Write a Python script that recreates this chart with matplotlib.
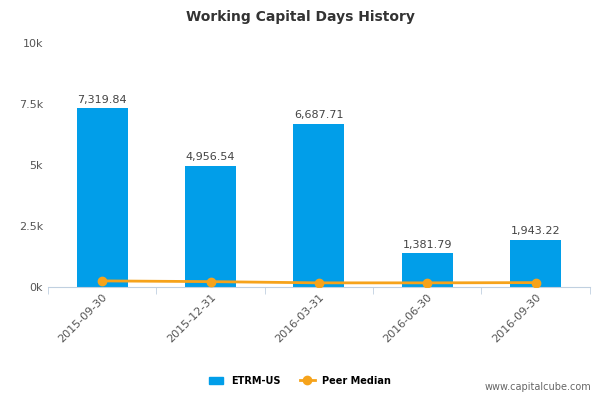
import matplotlib
matplotlib.use("Agg")
import matplotlib.pyplot as plt
import numpy as np

categories = ["2015-09-30", "2015-12-31", "2016-03-31", "2016-06-30", "2016-09-30"]
etrm = [7319.84, 4956.54, 6687.71, 1381.79, 1943.22]
peer = [250, 220, 170, 170, 180]
yticks = [0, 2500, 5000, 7500, 10000]
ylabels = ["0k", "2.5k", "5k", "7.5k", "10k"]

fig = plt.figure(figsize=(6, 4), dpi=100)
ax = fig.add_axes([0.08, 0.2825, 0.903, 0.61])
x = np.arange(len(categories))
ax.bar(x, etrm, width=0.47, color="#019ee9", zorder=2)
ax.plot(x, peer, color="#f6a31b", marker="o", markersize=6, linewidth=2, zorder=3)
for xi, v in zip(x, etrm):
    ax.text(xi, v + 150, f"{v:,.2f}", ha="center", va="bottom", fontsize=8, color="#444444")
ax.set_xlim(-0.5, 4.5)
ax.set_ylim(0, 10000)
ax.set_yticks(yticks)
ax.set_yticklabels(ylabels, fontsize=8, color="#555555")
ax.set_xticks(x)
ax.set_xticklabels(categories, rotation=45, ha="right", rotation_mode="anchor", fontsize=8, color="#555555")
ax.set_xticks(np.arange(-0.5, 5, 1), minor=True)
ax.tick_params(axis="x", which="major", length=0)
ax.tick_params(axis="x", which="minor", length=5, color="#c0d0e0")
ax.tick_params(axis="y", length=0)
for s in ["top", "right", "left"]:
    ax.spines[s].set_visible(False)
ax.spines["bottom"].set_color("#c0d0e0")
fig.text(0.5, 0.958, "Working Capital Days History", ha="center", va="center", fontsize=10, fontweight="bold", color="#333333")
h1 = plt.Rectangle((0, 0), 1, 1, color="#019ee9")
h2, = ax.plot([], [], color="#f6a31b", marker="o", linewidth=2)
fig.legend([h1, h2], ["ETRM-US", "Peer Median"], loc="center", bbox_to_anchor=(0.5, 0.048), ncol=2, frameon=False,
           prop={"size": 7, "weight": "bold"}, handlelength=1.5, columnspacing=2)
fig.text(0.985, 0.02, "www.capitalcube.com", ha="right", va="bottom", fontsize=7, color="#666666")
fig.savefig("out.png", dpi=100)
